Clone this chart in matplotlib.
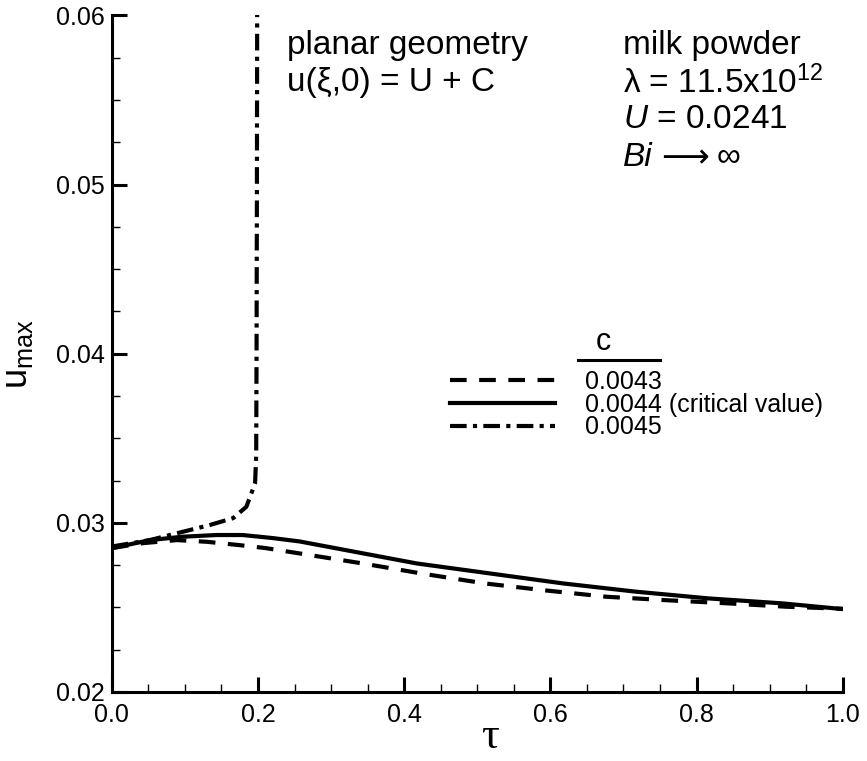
import matplotlib
matplotlib.use("Agg")
import matplotlib.pyplot as plt
from matplotlib.lines import Line2D
from matplotlib.ticker import MultipleLocator

plt.rcParams['font.family'] = ['Liberation Sans', 'DejaVu Sans']
plt.rcParams['mathtext.fontset'] = 'custom'
plt.rcParams['mathtext.rm'] = 'Liberation Sans'
plt.rcParams['mathtext.it'] = 'Liberation Sans:italic'

# C = 0.0043 (dashed)
tau_43 = [0.0, 0.043, 0.089, 0.13, 0.175, 0.21, 0.257, 0.343, 0.423, 0.51,
          0.59, 0.677, 0.757, 0.843, 0.923, 1.0]
u_43 = [0.02851, 0.0288, 0.02898, 0.02888, 0.02868, 0.02851, 0.02819, 0.0276,
        0.02701, 0.02642, 0.02602, 0.02563, 0.02543, 0.02524, 0.02504, 0.02492]

# C = 0.0044 (solid, critical value)
tau_44 = [0.0, 0.052, 0.097, 0.143, 0.179, 0.22, 0.257, 0.3, 0.417, 0.517,
          0.617, 0.717, 0.817, 0.917, 1.0]
u_44 = [0.0285, 0.02898, 0.02918, 0.02928, 0.02928, 0.0291, 0.0289, 0.02855,
        0.0276, 0.02701, 0.02642, 0.02593, 0.02553, 0.02524, 0.0249]

# C = 0.0045 (dash-dot, blows up near tau = 0.2)
tau_45 = [0.0, 0.052, 0.097, 0.134, 0.166, 0.184, 0.191, 0.196, 0.1975,
          0.198, 0.1985, 0.199]
u_45 = [0.0286, 0.02898, 0.02947, 0.02987, 0.03028, 0.03095, 0.03176, 0.03235,
        0.034, 0.040, 0.050, 0.065]

legend_labels = ["0.0043", "0.0044 (critical value)", "0.0045"]

fig = plt.figure(figsize=(8.67, 7.61), dpi=100)
ax = fig.add_axes([0.129, 0.0907, 0.843, 0.889])

lw = 3.0
l1, = ax.plot(tau_43, u_43, color="black", lw=lw, dashes=(4, 3))
l2, = ax.plot(tau_44, u_44, color="black", lw=lw)
l3, = ax.plot(tau_45, u_45, color="black", lw=lw, dashes=(4, 1.5, 1, 1.5))

ax.set_xlim(0, 1.0)
ax.set_ylim(0.02, 0.06)
ax.xaxis.set_major_locator(MultipleLocator(0.2))
ax.xaxis.set_minor_locator(MultipleLocator(0.05))
ax.yaxis.set_major_locator(MultipleLocator(0.01))
ax.yaxis.set_minor_locator(MultipleLocator(0.0025))
ax.xaxis.set_major_formatter(plt.FormatStrFormatter("%.1f"))
ax.yaxis.set_major_formatter(plt.FormatStrFormatter("%.2f"))

# axes frame: only left and bottom
ax.spines["top"].set_visible(False)
ax.spines["right"].set_visible(False)
ax.spines["left"].set_linewidth(2.2)
ax.spines["bottom"].set_linewidth(2.2)
ax.tick_params(which="major", direction="in", length=11, width=2.2, labelsize=18)
ax.tick_params(which="minor", direction="in", length=6, width=1.0)
ax.tick_params(axis="x", which="major", pad=8)
ax.tick_params(axis="y", which="major", pad=5)

ax.set_xlabel("τ", fontsize=32, family=["Liberation Serif", "DejaVu Serif"])
ax.xaxis.set_label_coords(0.517, -0.066)
ax.xaxis.label.set_va("center")
ax.set_ylabel(r"u$_{\mathrm{max}}$", fontsize=26)
ax.yaxis.set_label_coords(-0.105, 0.5)

# annotations
fs = 24
ax.text(0.240, 0.956, "planar geometry", fontsize=fs, va="center", transform=ax.transAxes)
ax.text(0.240, 0.901, "u(ξ,0) = U + C", fontsize=fs, va="center", transform=ax.transAxes)
ax.text(0.700, 0.956, "milk powder", fontsize=fs, va="center", transform=ax.transAxes)
ax.text(0.700, 0.901, r"λ = 11.5x10$^{12}$", fontsize=fs, va="center",
        transform=ax.transAxes)
ax.text(0.700, 0.846, r"$U$ = 0.0241", fontsize=fs, va="center", transform=ax.transAxes)
ax.text(0.700, 0.790, "Bi", fontsize=fs, fontstyle="italic", va="center",
        transform=ax.transAxes)
ax.text(0.752, 0.790, "⟶", fontsize=fs, family=["DejaVu Sans"], va="center",
        transform=ax.transAxes)
ax.text(0.828, 0.790, "∞", fontsize=fs, va="center", transform=ax.transAxes)

# legend with underlined header "c"
leg = ax.legend([l1, l2, l3], legend_labels, frameon=False, fontsize=18,
                loc="upper left", bbox_to_anchor=(0.463, 0.476),
                handlelength=4.2, handletextpad=1.2, labelspacing=-0.05,
                borderaxespad=0, borderpad=0)
ax.text(0.672, 0.517, "c", fontsize=22, ha="center", va="center", transform=ax.transAxes)
ax.add_line(Line2D([0.6375, 0.7497], [0.4904, 0.4904], color="black", lw=2.2,
                   transform=ax.transAxes))

fig.savefig("out.png", dpi=100)
